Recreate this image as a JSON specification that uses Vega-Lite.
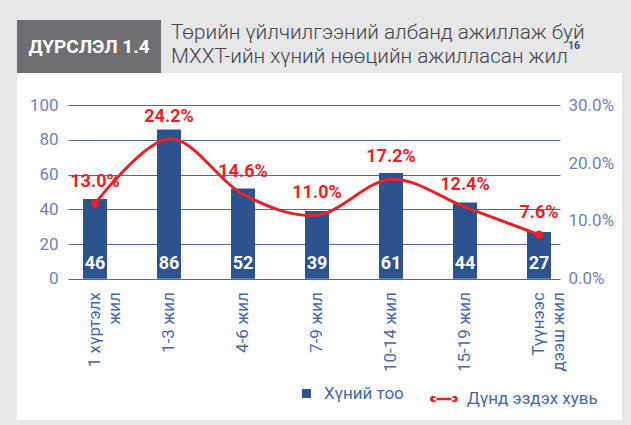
{
  "$schema": "https://vega.github.io/schema/vega-lite/v6.json",
  "background": "#e6e7e9",
  "padding": {"left": 17, "top": 20, "right": 9, "bottom": 5},
  "config": {"view": {"stroke": null}, "font": "Roboto", "concat": {"spacing": 0}},
  "datasets": {
    "main": [
      {"cat": "1 хүртэлх жил", "count": 46, "pct": 0.130},
      {"cat": "1-3 жил", "count": 86, "pct": 0.242},
      {"cat": "4-6 жил", "count": 52, "pct": 0.146},
      {"cat": "7-9 жил", "count": 39, "pct": 0.110},
      {"cat": "10-14 жил", "count": 61, "pct": 0.172},
      {"cat": "15-19 жил", "count": 44, "pct": 0.124},
      {"cat": "Түүнээс дээш жил", "count": 27, "pct": 0.076}
    ],
    "head": [
      {"box": "ДҮРСЛЭЛ 1.4", "l1": "Төрийн үйлчилгээний албанд ажиллаж буй", "l2": "МХХТ-ийн хүний нөөцийн ажилласан жил", "sup": "16"}
    ]
  },
  "vconcat": [
    {
      "spacing": 0,
      "hconcat": [
        {
          "data": {"name": "head"},
          "width": 144,
          "height": 53,
          "view": {"fill": "#6d6e71"},
          "mark": {"type": "text", "color": "white", "fontWeight": "bold", "fontSize": 19, "align": "center", "baseline": "middle"},
          "encoding": {"text": {"field": "box"}}
        },
        {
          "data": {"name": "head"},
          "width": 20,
          "height": 53,
          "layer": [
            {
              "mark": {"type": "text", "align": "left", "baseline": "alphabetic", "fontSize": 20.7, "fontWeight": 300, "color": "#454547", "dy": -7.5},
              "encoding": {"text": {"field": "l1"}}
            },
            {
              "mark": {"type": "text", "align": "left", "baseline": "alphabetic", "fontSize": 20.7, "fontWeight": 300, "color": "#454547", "dy": 16.5},
              "encoding": {"text": {"field": "l2"}}
            },
            {
              "mark": {"type": "text", "align": "left", "baseline": "alphabetic", "fontSize": 10.5, "fontWeight": "bold", "color": "#2c5290", "dx": 397, "dy": 2.5},
              "encoding": {"text": {"field": "sup"}}
            }
          ]
        }
      ]
    },
    {
      "data": {"name": "main"},
      "width": 605,
      "height": 347,
      "view": {"fill": "white"},
      "encoding": {
        "x": {
          "field": "cat",
          "type": "nominal",
          "sort": null,
          "scale": {"range": [51, 543], "paddingInner": 0.6757, "paddingOuter": 0.1622, "align": 0.625},
          "axis": {
            "title": null,
            "orient": "bottom",
            "offset": -141.3,
            "domain": false,
            "ticks": false,
            "labelAngle": 270,
            "labelAlign": "right",
            "labelBaseline": "middle",
            "labelPadding": 13,
            "labelFontSize": 17,
            "labelColor": "#4a67a5",
            "labelLineHeight": 20,
            "labelLimit": 0,
            "labelExpr": "datum.label == '1 хүртэлх жил' ? ['1 хүртэлх', 'жил'] : datum.label == 'Түүнээс дээш жил' ? ['Түүнээс', 'дээш жил'] : datum.label"
          }
        }
      },
      "layer": [
        {
          "layer": [
            {
              "mark": {"type": "bar"},
              "encoding": {
                "y": {
                  "field": "count",
                  "type": "quantitative",
                  "title": null,
                  "scale": {"domain": [0, 100], "range": [205.7, 32.3], "nice": false},
                  "axis": {
                    "orient": "left",
                    "values": [0, 20, 40, 60, 80, 100],
                    "offset": -51,
                    "domain": false,
                    "ticks": false,
                    "grid": true,
                    "gridColor": "#4e6aa3",
                    "gridWidth": 1.2,
                    "labelPadding": 10,
                    "labelFontSize": 17,
                    "labelColor": "#7081b6",
                    "title": null
                  }
                },
                "fill": {
                  "datum": "Хүний тоо",
                  "type": "nominal",
                  "scale": {"range": ["#2c5290"]},
                  "legend": {
                    "orient": "none",
                    "legendX": 281,
                    "legendY": 365,
                    "title": null,
                    "symbolType": "square",
                    "symbolSize": 81,
                    "symbolStrokeWidth": 0,
                    "labelFontSize": 17,
                    "labelColor": "#4a67a5",
                    "labelOffset": 9
                  }
                }
              }
            },
            {
              "mark": {"type": "text", "color": "white", "fontWeight": "bold", "fontSize": 18, "baseline": "alphabetic", "dy": -10},
              "encoding": {
                "y": {"datum": 0, "type": "quantitative", "title": null},
                "text": {"field": "count"}
              }
            }
          ]
        },
        {
          "layer": [
            {
              "mark": {"type": "line", "interpolate": "cardinal", "strokeWidth": 3},
              "encoding": {
                "y": {
                  "field": "pct",
                  "type": "quantitative",
                  "title": null,
                  "scale": {"domain": [0, 0.3], "range": [205.7, 32.3], "nice": false},
                  "axis": {
                    "orient": "right",
                    "values": [0, 0.1, 0.2, 0.3],
                    "format": ".1%",
                    "offset": -62,
                    "domain": false,
                    "ticks": false,
                    "grid": false,
                    "labelPadding": 8,
                    "labelFontSize": 17,
                    "labelColor": "#7081b6",
                    "title": null
                  }
                },
                "stroke": {
                  "datum": "Дүнд эздэх хувь",
                  "type": "nominal",
                  "scale": {"range": ["#e52329"]},
                  "legend": {
                    "orient": "none",
                    "legendX": 413,
                    "legendY": 365,
                    "title": null,
                    "symbolType": "M-1,0A0.24,0.24,0,1,0,-0.52,0A0.24,0.24,0,1,0,-1,0ZM0.52,0A0.24,0.24,0,1,0,1,0A0.24,0.24,0,1,0,0.52,0ZM-0.76,-0.09H0.76V0.09H-0.76Z",
                    "symbolSize": 784,
                    "labelFontSize": 17,
                    "labelColor": "#4a67a5",
                    "labelOffset": 9,
                    "encode": {"symbols": {"update": {"fill": {"value": "#e52329"}, "strokeWidth": {"value": 0}}}}
                  }
                }
              }
            },
            {
              "transform": [{"filter": "datum.cat == '1 хүртэлх жил' || datum.cat == 'Түүнээс дээш жил'"}],
              "mark": {"type": "circle", "size": 70, "color": "#e52329", "opacity": 1},
              "encoding": {"y": {"field": "pct", "type": "quantitative", "title": null}}
            },
            {
              "mark": {"type": "text", "color": "#e52329", "fontWeight": "bold", "fontSize": 18, "baseline": "alphabetic", "dy": -17},
              "encoding": {
                "y": {"field": "pct", "type": "quantitative", "title": null},
                "text": {"field": "pct", "format": ".1%"}
              }
            }
          ]
        }
      ],
      "resolve": {"scale": {"y": "independent"}}
    }
  ]
}
